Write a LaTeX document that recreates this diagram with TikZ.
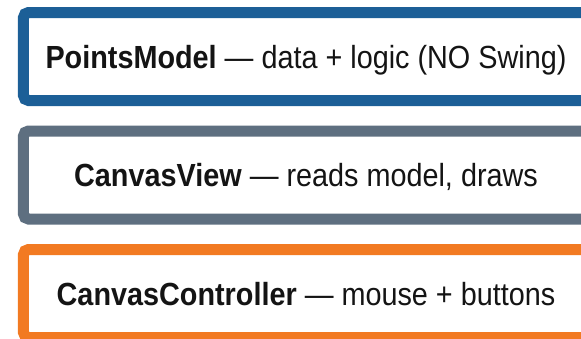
\documentclass[tikz,border=0pt]{standalone}
\usepackage{fontspec}
\setmainfont{Liberation Sans}
\definecolor{modelblue}{HTML}{1C5F97}
\definecolor{viewgray}{HTML}{5E6F80}
\definecolor{ctrlorange}{HTML}{F27A22}
\definecolor{inktext}{HTML}{141414}
% labels are set a little condensed
\newcommand{\condensed}[1]{\scalebox{0.9}[1]{#1}}
\begin{document}
\begin{tikzpicture}[x=1bp,y=-1bp,
  layer/.style={draw=#1, line width=11bp, rounded corners=5bp, fill=white,
    minimum width=565bp, minimum height=88bp, inner sep=0pt,
    text=inktext, text height=23bp, text depth=0bp,
    font=\fontsize{32bp}{36bp}\selectfont}]
\useasboundingbox (0,0) rectangle (581,338);
\node[layer=modelblue] (model) at (306,56.5)
  {\condensed{\textbf{PointsModel} — data + logic (NO Swing)}};
\node[layer=viewgray] (view) at (306,175)
  {\condensed{\textbf{CanvasView} — reads model, draws}};
\node[layer=ctrlorange] (ctrl) at (306,293.5)
  {\condensed{\textbf{CanvasController} — mouse + buttons}};
\end{tikzpicture}
\end{document}
